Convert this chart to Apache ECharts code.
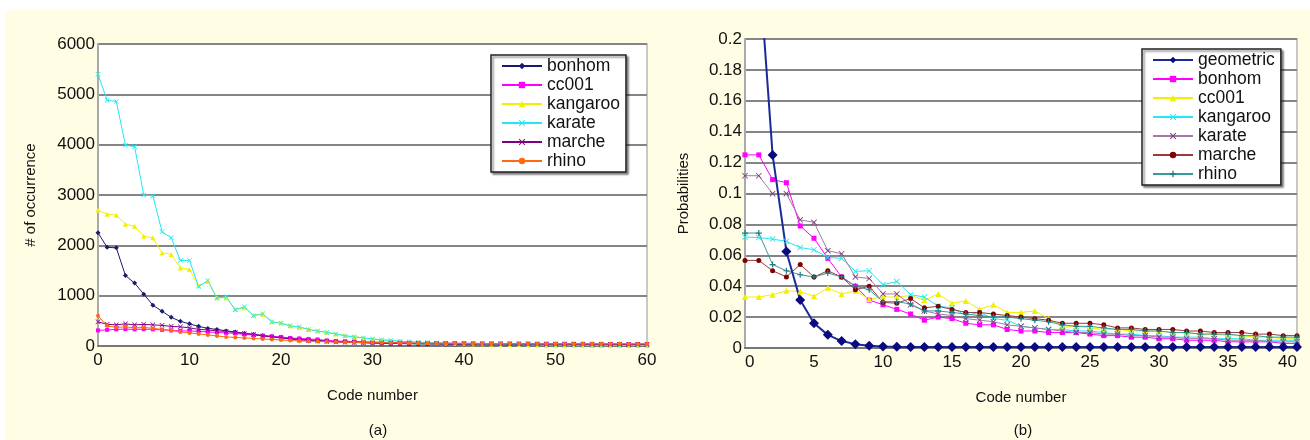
<!DOCTYPE html>
<html>
<head>
<meta charset="utf-8">
<script src="https://cdn.jsdelivr.net/npm/echarts@6/dist/echarts.min.js"></script>
<style>
  html, body { margin: 0; padding: 0; background: #fff; }
  #chart { width: 1310px; height: 440px; }
</style>
</head>
<body>
<div id="chart"></div>
<script>
// ---- panel (a): number of occurrences per code number (0..60)
const bonhomA = [2250, 1960, 1950, 1400, 1250, 1030, 810, 690, 570, 490, 440, 390, 350, 330, 300, 280, 250, 230, 210, 190, 170, 150, 140, 125, 110, 100, 90, 80, 75, 70, 60, 55, 50, 48, 45, 42, 40, 38, 36, 34, 32, 30, 28, 27, 26, 25, 24, 23, 22, 21, 20, 19, 18, 18, 17, 16, 16, 15, 15, 14, 14];
const cc001A = [310, 320, 330, 335, 330, 335, 330, 320, 310, 300, 300, 290, 280, 270, 260, 250, 230, 220, 200, 190, 180, 160, 150, 140, 130, 110, 100, 95, 90, 85, 80, 75, 70, 68, 65, 62, 60, 58, 56, 55, 54, 52, 50, 50, 48, 48, 46, 46, 45, 45, 44, 44, 43, 43, 42, 42, 41, 41, 40, 40, 40];
const kangarooA = [2700, 2620, 2600, 2420, 2380, 2180, 2150, 1850, 1820, 1550, 1520, 1200, 1280, 960, 960, 730, 760, 610, 630, 480, 460, 400, 370, 330, 300, 270, 240, 210, 190, 160, 140, 125, 110, 95, 85, 75, 68, 62, 56, 50, 46, 42, 38, 35, 32, 30, 28, 26, 24, 22, 21, 20, 19, 18, 17, 16, 15, 14, 14, 13, 13];
const karateA = [5400, 4880, 4860, 3990, 3960, 3000, 2980, 2270, 2150, 1700, 1700, 1180, 1300, 950, 980, 720, 780, 600, 640, 480, 450, 400, 380, 330, 300, 270, 240, 200, 180, 160, 140, 120, 110, 95, 85, 75, 68, 62, 56, 50, 46, 42, 38, 35, 32, 30, 28, 26, 24, 22, 21, 20, 19, 18, 17, 16, 15, 14, 14, 13, 13];
const marcheA = [480, 430, 420, 440, 420, 430, 420, 410, 390, 380, 360, 330, 320, 300, 290, 270, 250, 230, 200, 180, 160, 140, 120, 110, 100, 90, 80, 75, 70, 65, 60, 58, 55, 52, 50, 48, 47, 46, 45, 44, 43, 42, 41, 40, 40, 39, 38, 38, 37, 37, 36, 36, 35, 35, 34, 34, 33, 33, 32, 32, 32];
const rhinoA = [600, 400, 370, 380, 360, 370, 350, 330, 310, 280, 260, 240, 220, 200, 180, 170, 160, 150, 140, 130, 120, 110, 100, 95, 90, 85, 80, 75, 70, 68, 66, 64, 62, 60, 58, 57, 56, 55, 54, 53, 52, 51, 50, 50, 49, 49, 48, 48, 47, 47, 46, 46, 45, 45, 44, 44, 43, 43, 42, 42, 42];

// ---- panel (b): probabilities per code number (0..40)
const geometricB = [0.5, 0.25, 0.125, 0.0625, 0.031, 0.016, 0.0085, 0.0045, 0.0025, 0.0015, 0.001, 0.0008, 0.0007, 0.0006, 0.0006, 0.0006, 0.0006, 0.0006, 0.0006, 0.0006, 0.0006, 0.0006, 0.0006, 0.0006, 0.0006, 0.0006, 0.0006, 0.0006, 0.0006, 0.0006, 0.0006, 0.0006, 0.0006, 0.0006, 0.0006, 0.0006, 0.0006, 0.0006, 0.0006, 0.0006, 0.0006];
const bonhomB = [0.125, 0.125, 0.109, 0.107, 0.079, 0.071, 0.058, 0.046, 0.040, 0.031, 0.028, 0.025, 0.022, 0.018, 0.020, 0.019, 0.016, 0.015, 0.015, 0.012, 0.011, 0.011, 0.010, 0.010, 0.010, 0.009, 0.008, 0.008, 0.007, 0.007, 0.006, 0.006, 0.005, 0.005, 0.005, 0.004, 0.004, 0.004, 0.004, 0.003, 0.003];
const cc001B = [0.033, 0.033, 0.0345, 0.037, 0.0365, 0.0335, 0.039, 0.035, 0.037, 0.0317, 0.033, 0.033, 0.034, 0.031, 0.035, 0.029, 0.0305, 0.025, 0.028, 0.023, 0.023, 0.024, 0.019, 0.0135, 0.014, 0.013, 0.012, 0.012, 0.011, 0.011, 0.011, 0.010, 0.010, 0.009, 0.009, 0.008, 0.008, 0.007, 0.007, 0.006, 0.006];
const kangarooB = [0.0718, 0.0715, 0.0705, 0.069, 0.065, 0.0636, 0.0586, 0.058, 0.0496, 0.050, 0.041, 0.043, 0.0345, 0.033, 0.027, 0.026, 0.021, 0.023, 0.019, 0.018, 0.014, 0.013, 0.012, 0.012, 0.011, 0.011, 0.010, 0.009, 0.009, 0.008, 0.008, 0.007, 0.007, 0.007, 0.006, 0.006, 0.006, 0.005, 0.005, 0.005, 0.005];
const karateB = [0.1115, 0.1115, 0.0999, 0.0999, 0.083, 0.0813, 0.063, 0.061, 0.046, 0.045, 0.035, 0.035, 0.028, 0.024, 0.022, 0.021, 0.019, 0.018, 0.017, 0.015, 0.014, 0.013, 0.012, 0.011, 0.010, 0.010, 0.009, 0.009, 0.008, 0.008, 0.007, 0.007, 0.006, 0.006, 0.006, 0.005, 0.005, 0.005, 0.004, 0.004, 0.004];
const marcheB = [0.0567, 0.0567, 0.050, 0.046, 0.054, 0.046, 0.050, 0.046, 0.0377, 0.040, 0.0295, 0.029, 0.032, 0.026, 0.027, 0.025, 0.023, 0.023, 0.022, 0.021, 0.020, 0.019, 0.018, 0.016, 0.016, 0.016, 0.015, 0.013, 0.013, 0.012, 0.012, 0.012, 0.011, 0.011, 0.010, 0.010, 0.010, 0.009, 0.009, 0.008, 0.008];
const rhinoB = [0.0744, 0.0744, 0.054, 0.050, 0.0474, 0.046, 0.0485, 0.046, 0.040, 0.0377, 0.030, 0.030, 0.0285, 0.024, 0.024, 0.023, 0.022, 0.021, 0.020, 0.020, 0.019, 0.018, 0.017, 0.015, 0.014, 0.014, 0.013, 0.012, 0.012, 0.011, 0.011, 0.010, 0.010, 0.009, 0.009, 0.009, 0.008, 0.008, 0.007, 0.007, 0.007];

const ticksA = { min: 0, max: 60, step: 10, ymax: 6000, ystep: 1000 };
const ticksB = { min: 0, max: 40, step: 5, ymax: 0.2, ystep: 0.02 };

// little cross shapes for the x / + markers
const xMark = 'path://M0,1L1,0L5,4L9,0L10,1L6,5L10,9L9,10L5,6L1,10L0,9L4,5Z';
const plusMark = 'path://M4,0L6,0L6,4L10,4L10,6L6,6L6,10L4,10L4,6L0,6L0,4L4,4Z';

const font = 'Liberation Sans, Arial, sans-serif';

function pts(arr) {
  return arr.map(function (v, i) { return [i, v]; });
}

function line(name, grid, data, color, symbol, size, lineColor, width) {
  return {
    name: name,
    type: 'line',
    xAxisIndex: grid,
    yAxisIndex: grid,
    data: pts(data),
    symbol: symbol,
    symbolSize: size,
    showAllSymbol: true,
    clip: true,
    itemStyle: { color: color },
    lineStyle: { color: lineColor || color, width: width || 1 },
    emphasis: { disabled: true },
    z: 2
  };
}

function xAxis(grid, t, alignEnds) {
  return {
    type: 'value', gridIndex: grid, min: t.min, max: t.max, interval: t.step,
    name: 'Code number', nameLocation: 'middle', nameGap: 42,
    nameTextStyle: { fontFamily: font, fontSize: 15, color: '#111' },
    axisLine: { onZero: false, lineStyle: { color: '#777', width: 2 } },
    axisTick: { show: false },
    splitLine: { show: false },
    axisLabel: {
      fontFamily: font, fontSize: 17, color: '#111', margin: 6,
      alignMinLabel: alignEnds ? 'left' : null,
      alignMaxLabel: alignEnds ? 'right' : null
    }
  };
}

function yAxis(grid, t, name, gap) {
  return {
    type: 'value', gridIndex: grid, min: 0, max: t.ymax, interval: t.ystep,
    name: name, nameLocation: 'middle', nameGap: gap,
    nameTextStyle: { fontFamily: font, fontSize: 15, color: '#111' },
    axisLine: { show: true, lineStyle: { color: '#aaa', width: 2 } },
    axisTick: { show: false },
    splitLine: { lineStyle: { color: '#858585', width: 2 } },
    axisLabel: {
      fontFamily: font, fontSize: 17, color: '#111', margin: 3,
      formatter: function (v) { return String(+v.toFixed(4)); }
    }
  };
}

function legend(left, top, names) {
  return {
    orient: 'vertical', left: left, top: top,
    data: names,
    formatter: function (n) { return n.slice(2); },
    itemWidth: 40, itemHeight: 8, itemGap: 1,
    padding: [2, 6, 2, 10],
    backgroundColor: '#fff',
    borderColor: '#222', borderWidth: 1.5,
    shadowColor: 'rgba(0,0,0,0.45)', shadowBlur: 2, shadowOffsetX: 2, shadowOffsetY: 2,
    textStyle: { fontFamily: font, fontSize: 17.5, color: '#111', lineHeight: 17 },
    selectedMode: false
  };
}

const chart = echarts.init(document.getElementById('chart'));
chart.setOption({
  backgroundColor: '#fff',
  animation: false,
  graphic: [{
    type: 'rect', left: 5, top: 10, z: -10,
    shape: { width: 1305, height: 430 },
    style: { fill: '#fffde3' }
  }],
  title: [
    { text: '(a)', left: 373, top: 418, textAlign: 'center',
      textStyle: { fontFamily: font, fontSize: 15, fontWeight: 'normal', color: '#111' } },
    { text: '(b)', left: 1018, top: 418, textAlign: 'center',
      textStyle: { fontFamily: font, fontSize: 15, fontWeight: 'normal', color: '#111' } }
  ],
  grid: [
    { left: 98, top: 44, width: 549, height: 302, show: true,
      backgroundColor: '#fff', borderColor: '#c8c8c8', borderWidth: 2 },
    { left: 745, top: 39, width: 552, height: 309, show: true,
      backgroundColor: '#fff', borderColor: '#c8c8c8', borderWidth: 2 }
  ],
  xAxis: [xAxis(0, ticksA, false), xAxis(1, ticksB, true)],
  yAxis: [yAxis(0, ticksA, '# of occurrence', 60), yAxis(1, ticksB, 'Probabilities', 54)],
  legend: [
    legend(491, 55, ['a:bonhom', 'a:cc001', 'a:kangaroo', 'a:karate', 'a:marche', 'a:rhino']),
    legend(1142, 49, ['b:geometric', 'b:bonhom', 'b:cc001', 'b:kangaroo', 'b:karate', 'b:marche', 'b:rhino'])
  ],
  series: [
    line('a:bonhom', 0, bonhomA, '#1a1a6e', 'diamond', 5),
    line('a:cc001', 0, cc001A, '#ff00ff', 'rect', 4),
    line('a:kangaroo', 0, kangarooA, '#f2f000', 'triangle', 5),
    line('a:karate', 0, karateA, '#22e8f0', xMark, 5),
    line('a:marche', 0, marcheA, '#800080', xMark, 5),
    line('a:rhino', 0, rhinoA, '#ff6a10', 'circle', 4),

    line('b:bonhom', 1, bonhomB, '#ff00ff', 'rect', 5),
    line('b:cc001', 1, cc001B, '#f2f000', 'triangle', 6),
    line('b:kangaroo', 1, kangarooB, '#22e8f0', xMark, 6),
    line('b:karate', 1, karateB, '#7a3a7a', xMark, 6, '#a678a6'),
    line('b:marche', 1, marcheB, '#800000', 'circle', 5, '#9a3a3a'),
    line('b:rhino', 1, rhinoB, '#1f7f7f', plusMark, 6, '#3a9a9a'),
    line('b:geometric', 1, geometricB, '#0a0a80', 'diamond', 10, '#1c2a96', 2)
  ]
});
</script>
</body>
</html>
